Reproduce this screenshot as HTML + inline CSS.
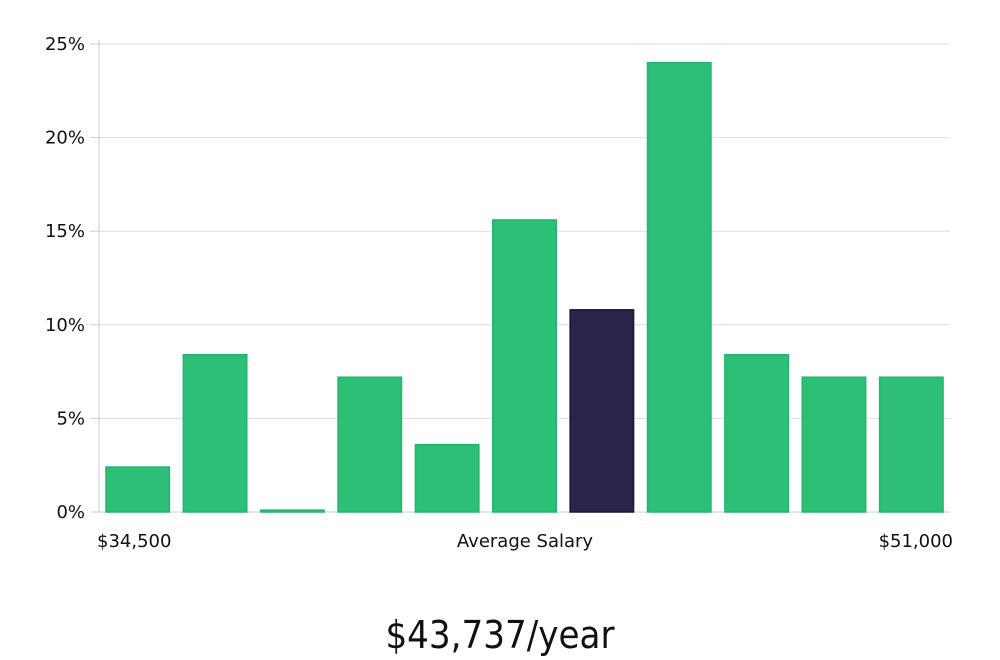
<!DOCTYPE html>
<html><head><meta charset="utf-8"><style>
html,body{margin:0;padding:0;background:#fff;width:1000px;height:660px;overflow:hidden}
svg text{font-family:"DejaVu Sans","Liberation Sans",sans-serif}
</style></head><body>
<svg id="chart" width="1000" height="660" viewBox="0 0 1000 660" xmlns="http://www.w3.org/2000/svg">
<g id="grid"></g>
<g id="bars"></g>
<g id="axes"></g>
<text x="97" y="547" font-size="18" fill="#111">$34,500</text>
<text x="525" y="547" font-size="18" fill="#111" text-anchor="middle">Average Salary</text>
<text x="953" y="547" font-size="18" fill="#111" text-anchor="end">$51,000</text>
<text x="500" y="648" font-size="38" fill="#111" text-anchor="middle" style="font-family:'DejaVu Sans Condensed','Liberation Sans Narrow',sans-serif;font-weight:300">$43,737/year</text>
</svg>
<script>
const values = [2.4, 8.4, 0.1, 7.2, 3.6, 15.6, 10.8, 24.0, 8.4, 7.2, 7.2];
const highlightIndex = [6];
const yTicks = [0, 5, 10, 15, 20, 25];
const yTickLabels = ["0%", "5%", "10%", "15%", "20%", "25%"];
const NS = "http://www.w3.org/2000/svg";
const x0 = 99, x1 = 950, yBase = 512, yTop = 44, yMax = 25;
const y = v => yBase - (v / yMax) * (yBase - yTop);
const band = (x1 - x0) / values.length;
const barW = band * 0.82;
const grid = document.getElementById('grid');
const axes = document.getElementById('axes');
yTicks.forEach((t, i) => {
  const l = document.createElementNS(NS, 'line');
  
  
  l.setAttribute('x1', x0); l.setAttribute('x2', x1);
  l.setAttribute('y1', y(t)); l.setAttribute('y2', y(t));
  l.setAttribute('stroke', t === 0 ? '#cccccc' : '#dddddd'); l.setAttribute('stroke-width', 1);
  grid.appendChild(l);
  const tk = document.createElementNS(NS, 'line');
  
  
  tk.setAttribute('x1', x0 - 9); tk.setAttribute('x2', x0);
  tk.setAttribute('y1', y(t)); tk.setAttribute('y2', y(t));
  tk.setAttribute('stroke', '#cccccc');
  axes.appendChild(tk);
  const tx = document.createElementNS(NS, 'text');
  
  
  tx.setAttribute('x', x0 - 14); tx.setAttribute('y', y(t) + 6);
  tx.setAttribute('text-anchor', 'end'); tx.setAttribute('font-size', '18'); tx.setAttribute('fill', '#111');
  tx.textContent = yTickLabels[i];
  axes.appendChild(tx);
});
const ax = document.createElementNS(NS, 'line');


ax.setAttribute('x1', x0); ax.setAttribute('x2', x0);
ax.setAttribute('y1', 40); ax.setAttribute('y2', yBase);
ax.setAttribute('stroke', '#cccccc');
axes.appendChild(ax);
const bars = document.getElementById('bars');
values.forEach((v, i) => {
  const r = document.createElementNS(NS, 'rect');
  
  
  const hi = highlightIndex.includes(i);
  const top = y(v);
  r.setAttribute('x', x0 + band * i + (band - barW) / 2);
  r.setAttribute('y', top);
  r.setAttribute('width', barW);
  r.setAttribute('height', Math.max(yBase - top, 1));
  r.setAttribute('fill', hi ? '#29254a' : '#2bbf77');
  r.setAttribute('stroke', hi ? '#1a1638' : '#22b56c');
  r.setAttribute('stroke-width', 1.5);
  bars.appendChild(r);
});
</script>
</body></html>
